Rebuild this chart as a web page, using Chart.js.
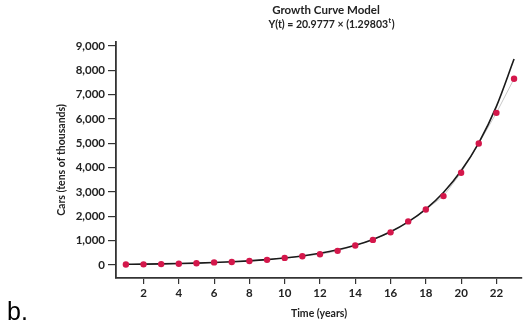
<!DOCTYPE html>
<html><head><meta charset="utf-8">
<script src="https://cdn.jsdelivr.net/npm/chart.js@4/dist/chart.umd.min.js"></script>
<style>html,body{margin:0;padding:0;background:#fff}#wrap{position:relative;width:526px;height:328px}</style>
</head><body><div id="wrap"><canvas id="c" width="526" height="328"></canvas></div>
<script>
const years = [1,2,3,4,5,6,7,8,9,10,11,12,13,14,15,16,17,18,19,20,21,22,23];
const cars = [20,25,35,50,70,105,120,165,210,290,360,440,580,800,1030,1340,1790,2280,2830,3790,4990,6250,7650];
const fitted = [27,35,46,60,77,100,130,169,219,285,370,480,623,809,1050,1362,1769,2296,2980,3868,5020,6517,8459];
const xTicks = [2,4,6,8,10,12,14,16,18,20,22];
const yTicks = [0,1000,2000,3000,4000,5000,6000,7000,8000,9000];
const titleMain = "Growth Curve Model";
const titleEqBase = "Y(t) = 20.9777 \u00D7 (1.29803";
const titleEqSup = "t";
const titleEqEnd = ")";
const xTitle = "Time (years)";
const yTitle = "Cars (tens of thousands)";
const panelLabel = "b.";

const FONT = "Lato, 'DejaVu Sans', sans-serif";
const AXIS = '#333';

const textPlugin = {
  id: 'texts',
  afterDraw(chart) {
    const ctx = chart.ctx;
    ctx.save();
    ctx.fillStyle = '#222';
    ctx.textBaseline = 'middle';
    ctx.textAlign = 'center';
    ctx.font = "bold 11.5px " + FONT;
    ctx.fillText(titleMain, 326, 10);
    ctx.font = "bold 10.5px " + FONT;
    const w1 = ctx.measureText(titleEqBase).width;
    ctx.font = "bold 7px " + FONT;
    const w2 = ctx.measureText(titleEqSup).width;
    ctx.font = "bold 10.5px " + FONT;
    const w3 = ctx.measureText(titleEqEnd).width;
    let x = 331 - (w1 + w2 + w3) / 2;
    ctx.textAlign = 'left';
    ctx.fillText(titleEqBase, x, 25);
    x += w1;
    ctx.font = "bold 7px " + FONT;
    ctx.fillText(titleEqSup, x + 0.5, 21);
    x += w2 + 1;
    ctx.font = "bold 10.5px " + FONT;
    ctx.fillText(titleEqEnd, x, 25);
    ctx.fillStyle = '#000';
    ctx.textBaseline = 'alphabetic';
    ctx.font = "25px 'Liberation Sans', Arial, sans-serif";
    ctx.fillText(panelLabel, 7, 320);
    ctx.restore();
  }
};

const pts = (xs, ys) => xs.map((v, i) => ({x: v, y: ys[i]}));

new Chart(document.getElementById('c'), {
  type: 'scatter',
  data: {
    datasets: [
      {
        data: pts(years, cars), showLine: true, borderColor: '#c8c8c8', borderWidth: 1,
        pointRadius: 0, order: 2
      },
      {
        data: pts(years, fitted), showLine: true, borderColor: '#1a1a1a', borderWidth: 1.6,
        pointRadius: 0, tension: 0.4, cubicInterpolationMode: 'monotone', order: 1
      },
      {
        data: pts(years, cars), showLine: false, pointRadius: 3.2,
        pointBackgroundColor: '#d4174b', pointBorderWidth: 0, order: 0
      }
    ]
  },
  options: {
    responsive: false, animation: false, devicePixelRatio: 1,
    layout: {padding: {top: 42, left: 0, right: 0, bottom: 0}},
    plugins: {legend: {display: false}, tooltip: {enabled: false}, title: {display: false}},
    scales: {
      x: {
        type: 'linear', min: 0.44, max: 23.45,
        afterBuildTicks: s => { s.ticks = xTicks.map(v => ({value: v})); },
        afterFit: s => { s.height = 50; },
        grid: {drawOnChartArea: false, drawTicks: true, tickLength: 6, color: AXIS, lineWidth: 1.2},
        border: {display: true, color: AXIS, width: 1.8},
        ticks: {color: '#222', padding: 2, maxRotation: 0, font: {family: FONT, size: 11.5, weight: 'bold'}},
        title: {display: true, text: xTitle, color: '#222', padding: {top: 0, bottom: 8.5},
                font: {family: FONT, size: 10.5, weight: 'bold'}}
      },
      y: {
        min: -535, max: 9160,
        afterBuildTicks: s => { s.ticks = yTicks.map(v => ({value: v})); },
        afterFit: s => { s.width = 116; },
        grid: {drawOnChartArea: false, drawTicks: true, tickLength: 8, color: AXIS, lineWidth: 1.2},
        border: {display: true, color: AXIS, width: 1.8},
        ticks: {color: '#222', padding: 3, font: {family: FONT, size: 11.5, weight: 'bold'},
                callback: v => v.toLocaleString('en-US')},
        title: {display: true, text: yTitle, color: '#222', padding: {top: 55, bottom: 0},
                font: {family: FONT, size: 10.5, weight: 'bold'}}
      }
    }
  },
  plugins: [textPlugin]
});
</script>
</body></html>
